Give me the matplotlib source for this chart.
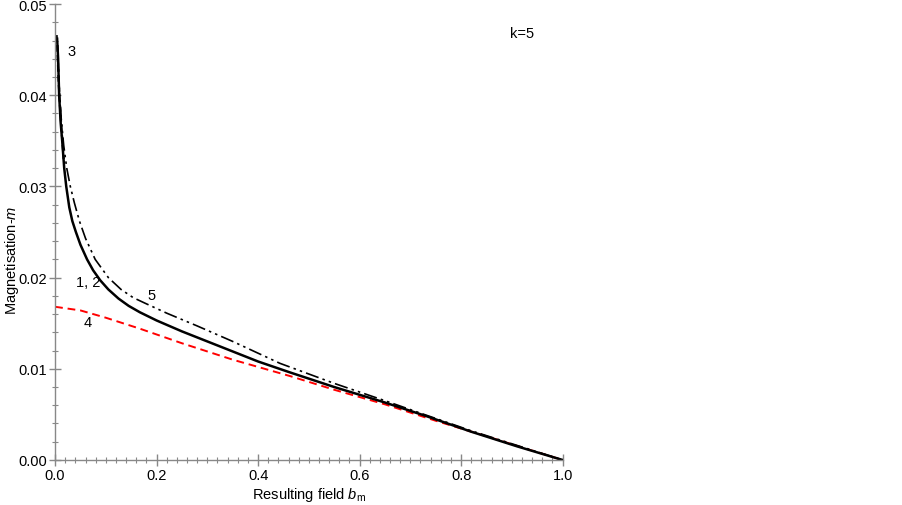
import matplotlib
matplotlib.use("Agg")
import matplotlib.pyplot as plt
from matplotlib.ticker import MultipleLocator

plt.rcParams["font.family"] = ["Liberation Sans", "DejaVu Sans"]
plt.rcParams["mathtext.fontset"] = "custom"
plt.rcParams["mathtext.it"] = "Liberation Sans:italic"
plt.rcParams["mathtext.rm"] = "Liberation Sans"

# curves 1, 2 (solid)
b12 = [0.004, 0.006, 0.008, 0.011, 0.014, 0.018, 0.022, 0.028, 0.034, 0.041, 0.050, 0.063, 0.075,
       0.089, 0.105, 0.125, 0.145, 0.167, 0.20, 0.25, 0.30, 0.35, 0.40, 0.463, 0.55, 0.65, 0.732, 0.82, 0.91, 1.0]
m12 = [0.0462, 0.0440, 0.0400, 0.0370, 0.0350, 0.0320, 0.0300, 0.0277, 0.0262, 0.0250, 0.0236, 0.0220, 0.0208,
       0.0197, 0.0187, 0.0177, 0.0169, 0.0162, 0.0153, 0.0141, 0.0130, 0.0119, 0.0108, 0.0096, 0.0080, 0.0063, 0.0048, 0.0031, 0.0015, 0.0]

# curve 3 (dashed, near the top)
b3 = [0.003, 0.005, 0.007, 0.010, 0.013, 0.017]
m3 = [0.0466, 0.0445, 0.0415, 0.0385, 0.0360, 0.0330]

# curve 4 (red dashed)
b4 = [0.0, 0.05, 0.1, 0.167, 0.25, 0.35, 0.463, 0.55, 0.65, 0.75, 0.85, 0.93, 1.0]
m4 = [0.0168, 0.0164, 0.0156, 0.0144, 0.0128, 0.0110, 0.0092, 0.0077, 0.0061, 0.0043, 0.0026, 0.0012, 0.0]

# curve 5 (dash-dot-dot)
b5 = [0.005, 0.008, 0.012, 0.017, 0.023, 0.030, 0.038, 0.048, 0.060, 0.079, 0.105, 0.130, 0.154, 0.177,
      0.22, 0.28, 0.35, 0.443, 0.55, 0.65, 0.732, 0.82, 0.91, 1.0]
m5 = [0.0455, 0.0410, 0.0375, 0.0345, 0.0320, 0.0300, 0.0282, 0.0262, 0.0243, 0.0220, 0.0200, 0.0187, 0.0178, 0.0172,
      0.0161, 0.0147, 0.0130, 0.0106, 0.0084, 0.0065, 0.0049, 0.0032, 0.0016, 0.0]

fig = plt.figure(figsize=(9.03, 5.06), dpi=100)
ax = fig.add_axes([0.061, 0.089, 0.562, 0.901])

ax.plot(b4, m4, color="red", lw=1.4, ls=(0, (4, 2.5)))
ax.plot(b5, m5, color="black", lw=1.2, ls=(0, (8, 2.5, 1.5, 2.5, 1.5, 2.5)))
ax.plot(b12, m12, color="black", lw=1.8)
ax.plot(b3, m3, color="black", lw=1.6, ls=(0, (3, 1.5)))

ax.set_xlim(0, 1.0)
ax.set_ylim(0, 0.05)
ax.xaxis.set_major_locator(MultipleLocator(0.2))
ax.xaxis.set_minor_locator(MultipleLocator(0.02))
ax.yaxis.set_major_locator(MultipleLocator(0.01))
ax.yaxis.set_minor_locator(MultipleLocator(0.002))
ax.xaxis.set_major_formatter(plt.FormatStrFormatter("%.1f"))
ax.yaxis.set_major_formatter(plt.FormatStrFormatter("%.2f"))

for s in ["top", "right"]:
    ax.spines[s].set_visible(False)
for s in ["left", "bottom"]:
    ax.spines[s].set_color("#888888")
    ax.spines[s].set_linewidth(1.0)

ax.tick_params(which="major", direction="inout", length=8, width=1, color="#888888", labelsize=10.5, pad=2)
ax.tick_params(which="minor", direction="inout", length=4, width=0.8, color="#888888")

ax.set_xlabel("Resulting field $b_{\\mathrm{m}}$", fontsize=10.5, labelpad=2)
ax.set_ylabel("Magnetisation-$m$", fontsize=10.5)
ax.yaxis.set_label_coords(-0.068, 0.44)

ax.text(0.033, 0.0448, "3", fontsize=10.5, ha="center", va="center")
ax.text(0.065, 0.0195, "1, 2", fontsize=10.5, ha="center", va="center")
ax.text(0.191, 0.0181, "5", fontsize=10.5, ha="center", va="center")
ax.text(0.065, 0.0151, "4", fontsize=10.5, ha="center", va="center")
ax.text(0.921, 0.0468, "k=5", fontsize=10.5, ha="center", va="center")

fig.savefig("out.png", dpi=100)
